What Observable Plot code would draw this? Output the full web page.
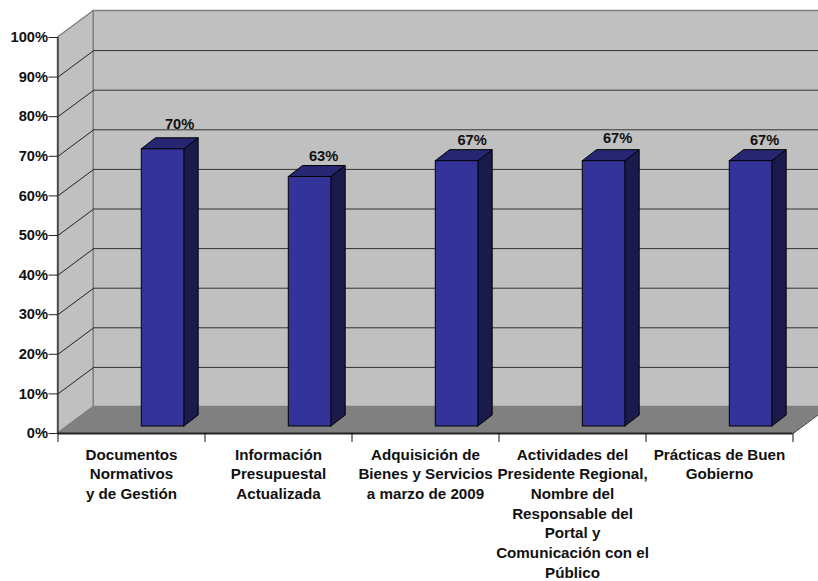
<!DOCTYPE html>
<html>
<head>
<meta charset="utf-8">
<script src="https://cdn.jsdelivr.net/npm/d3@7"></script>
<script src="https://cdn.jsdelivr.net/npm/@observablehq/plot@0.6"></script>
<style>html,body{margin:0;padding:0;background:#fff;overflow:hidden}</style>
</head>
<body>
<div id="chart"></div>
<script>
const categories = [
  "Documentos\nNormativos\ny de Gestión",
  "Información\nPresupuestal\nActualizada",
  "Adquisición de\nBienes y Servicios\na marzo de 2009",
  "Actividades del\nPresidente Regional,\nNombre del\nResponsable del\nPortal y\nComunicación con el\nPúblico",
  "Prácticas de Buen\nGobierno"
];
const values = [70, 63, 67, 67, 67];
const yTicks = [0, 10, 20, 30, 40, 50, 60, 70, 80, 90, 100];

// Oblique projection of the 3D chart, in scale units
const wallDx = 0.243, wallDy = 6.69;     // depth of the floor
const barStart = 0.57, barWidth = 0.29;  // front face of a bar within its category
const barLift = 1.77;                    // front of the bars above the front of the floor
const barDx = 0.097, barDy = 2.78;       // depth of a bar
const labelLift = [3.55, 2.35, 2.5, 3.0, 2.5];
const labelShift = [0.257, 0.237, 0.247, 0.237, 0.237];

const cats = categories.map((c, i) => i);
const n = categories.length;
const faceColor = "#333399", topColor = "#262673", sideColor = "#1a1a4d";
const font = {fontFamily: "Liberation Sans, Arial, sans-serif", fontSize: 14.67, fontWeight: "bold", fill: "#111"};

const plot = Plot.plot({
  width: 818, height: 581,
  marginLeft: 57.5, marginRight: 25.5, marginTop: 37, marginBottom: 148,
  x: {type: "linear", domain: [0, n], axis: null},
  y: {type: "linear", domain: [0, 100], axis: null},
  style: {overflow: "hidden", background: "#fff", fontFamily: font.fontFamily},
  marks: [
    // back wall
    Plot.rect([0], {x1: wallDx, x2: n + wallDx, y1: wallDy, y2: 100 + wallDy, fill: "#c0c0c0", stroke: "#808080", strokeWidth: 1.5}),
    // left wall
    Plot.areaY([0, 1], {x: t => t * wallDx, y1: t => t * wallDy, y2: t => 100 + t * wallDy, fill: "#c0c0c0", stroke: "#808080", strokeWidth: 1.5}),
    // gridlines
    Plot.ruleY(yTicks.slice(1, -1), {y: d => d + wallDy, x1: wallDx, x2: n + wallDx, stroke: "#333", strokeWidth: 1}),
    Plot.link(yTicks.slice(1, -1), {x1: 0, y1: d => d, x2: wallDx, y2: d => d + wallDy, stroke: "#222", strokeWidth: 1}),
    // floor
    Plot.areaX([0, 1], {y: t => t * wallDy, x1: t => t * wallDx, x2: t => n + t * wallDx, fill: "#808080", stroke: "#808080"}),
    Plot.link([0], {x1: n, y1: 0, x2: n + wallDx, y2: wallDy, stroke: "#333", strokeWidth: 1}),
    // bars: side, top, front
    ...cats.map(i => Plot.areaY([0, 1], {
      x: t => i + barStart + barWidth + t * barDx,
      y1: t => barLift + t * barDy,
      y2: t => values[i] + barLift + t * barDy,
      fill: sideColor, stroke: "#000", strokeWidth: 1
    })),
    ...cats.map(i => Plot.areaX([0, 1], {
      y: t => values[i] + barLift + t * barDy,
      x1: t => i + barStart + t * barDx,
      x2: t => i + barStart + barWidth + t * barDx,
      fill: topColor, stroke: "#000", strokeWidth: 1
    })),
    Plot.rect(cats, {
      x1: i => i + barStart, x2: i => i + barStart + barWidth,
      y1: barLift, y2: i => values[i] + barLift,
      fill: faceColor, stroke: "#000", strokeWidth: 1
    }),
    // value labels
    Plot.text(cats, {
      x: i => i + barStart + labelShift[i],
      y: i => values[i] + barLift + barDy + labelLift[i],
      text: i => values[i] + "%",
      textAnchor: "middle", lineAnchor: "middle", ...font
    }),
    // axes
    Plot.ruleX([0], {y1: -2.27, y2: 100, stroke: "#111", strokeWidth: 1}),
    Plot.ruleY([0], {x1: 0, x2: n, stroke: "#222", strokeWidth: 2}),
    Plot.ruleX(d3.range(1, n + 1), {y1: 0, y2: -2.27, stroke: "#111", strokeWidth: 1}),
    Plot.axisY({ticks: yTicks, tickSize: 9, tickPadding: 1, tickFormat: d => d + "%", stroke: "#222", ...font, marginLeft: 57.5}),
    // category labels
    Plot.text(cats, {
      x: i => i + 0.5, y: 0, dy: 12,
      text: i => categories[i],
      lineAnchor: "top", lineHeight: 1.296, textAnchor: "middle", ...font, fontSize: 15.2
    })
  ]
});
document.getElementById("chart").appendChild(plot);
</script>
</body>
</html>
